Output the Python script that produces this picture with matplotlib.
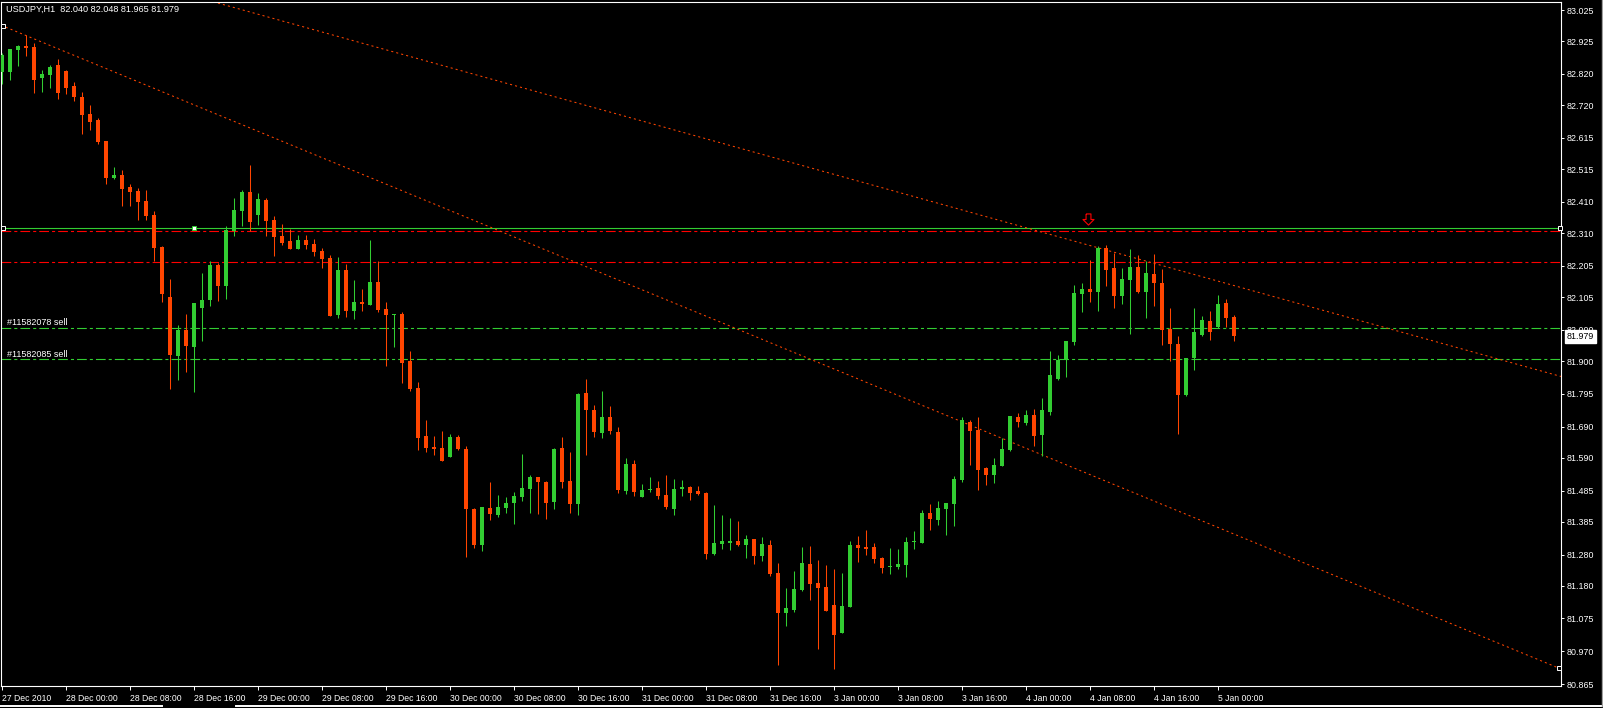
import matplotlib
matplotlib.use('Agg')
import matplotlib.pyplot as plt
from matplotlib.path import Path
from matplotlib.lines import Line2D

plt.rcParams['font.family'] = ['Liberation Sans', 'DejaVu Sans']
plt.rcParams['lines.scale_dashes'] = False

# USDJPY H1 bars, 27 Dec 2010 16:00 -> 5 Jan 2011 02:00
opens = [82.826, 82.827, 82.897, 82.911, 82.906, 82.808, 82.817, 82.849, 82.830, 82.781,
         82.746, 82.692, 82.672, 82.605, 82.488, 82.496, 82.459, 82.445, 82.413, 82.368,
         82.265, 82.105, 81.916, 81.999, 81.945, 82.070, 82.096, 82.208, 82.140, 82.317,
         82.381, 82.442, 82.368, 82.416, 82.352, 82.301, 82.285, 82.259, 82.288, 82.275,
         82.253, 82.230, 82.048, 82.192, 82.060, 82.089, 82.080, 82.153, 82.067, 82.046,
         82.051, 81.900, 81.814, 81.660, 81.625, 81.621, 81.592, 81.657, 81.618, 81.426,
         81.310, 81.429, 81.407, 81.429, 81.445, 81.464, 81.490, 81.528, 81.512, 81.448,
         81.621, 81.515, 81.442, 81.798, 81.743, 81.669, 81.721, 81.673, 81.484, 81.570,
         81.464, 81.487, 81.493, 81.471, 81.426, 81.490, 81.496, 81.484, 81.477, 81.282,
         81.314, 81.317, 81.323, 81.310, 81.330, 81.275, 81.310, 81.221, 81.093, 81.102,
         81.166, 81.250, 81.189, 81.176, 81.118, 81.028, 81.112, 81.310, 81.304, 81.304,
         81.269, 81.241, 81.241, 81.246, 81.319, 81.317, 81.413, 81.391, 81.426, 81.442,
         81.519, 81.705, 81.679, 81.557, 81.535, 81.564, 81.615, 81.721, 81.701, 81.727,
         81.663, 81.738, 81.842, 81.903, 81.962, 82.116, 82.131, 82.122, 82.263, 82.198,
         82.108, 82.160, 82.201, 82.121, 82.179, 82.150, 82.003, 81.955, 81.791, 81.910,
         81.983, 82.028, 82.009, 82.086, 82.040]
highs = [82.888, 82.900, 82.914, 82.945, 82.920, 82.833, 82.849, 82.868, 82.833, 82.794,
         82.762, 82.721, 82.679, 82.605, 82.522, 82.512, 82.467, 82.455, 82.448, 82.381,
         82.269, 82.163, 82.015, 82.051, 82.086, 82.182, 82.221, 82.214, 82.333, 82.422,
         82.448, 82.528, 82.439, 82.422, 82.365, 82.339, 82.323, 82.304, 82.304, 82.291,
         82.262, 82.240, 82.233, 82.211, 82.160, 82.131, 82.288, 82.221, 82.089, 82.051,
         82.058, 81.932, 81.833, 81.711, 81.660, 81.676, 81.666, 81.663, 81.628, 81.429,
         81.432, 81.512, 81.471, 81.464, 81.480, 81.602, 81.535, 81.528, 81.515, 81.621,
         81.657, 81.608, 81.798, 81.842, 81.759, 81.804, 81.756, 81.689, 81.589, 81.583,
         81.506, 81.528, 81.515, 81.535, 81.522, 81.519, 81.500, 81.500, 81.480, 81.439,
         81.407, 81.397, 81.387, 81.342, 81.330, 81.336, 81.326, 81.253, 81.173, 81.227,
         81.304, 81.307, 81.262, 81.246, 81.234, 81.221, 81.323, 81.339, 81.358, 81.317,
         81.272, 81.301, 81.298, 81.336, 81.355, 81.423, 81.442, 81.451, 81.445, 81.532,
         81.721, 81.711, 81.721, 81.560, 81.589, 81.653, 81.724, 81.733, 81.743, 81.746,
         81.782, 81.932, 81.919, 81.964, 82.144, 82.150, 82.224, 82.269, 82.272, 82.246,
         82.198, 82.259, 82.240, 82.221, 82.243, 82.196, 82.071, 81.980, 81.910, 82.071,
         82.044, 82.060, 82.112, 82.099, 82.048]
lows = [82.788, 82.801, 82.846, 82.878, 82.760, 82.763, 82.776, 82.739, 82.757, 82.734,
        82.628, 82.640, 82.596, 82.467, 82.484, 82.397, 82.397, 82.352, 82.352, 82.221,
        82.089, 81.810, 81.839, 81.865, 81.801, 81.964, 82.076, 82.092, 82.099, 82.301,
        82.333, 82.317, 82.336, 82.301, 82.237, 82.272, 82.259, 82.259, 82.259, 82.237,
        82.198, 82.044, 82.038, 82.041, 82.035, 82.060, 82.080, 82.057, 81.884, 81.945,
        81.831, 81.805, 81.615, 81.609, 81.599, 81.580, 81.592, 81.615, 81.272, 81.301,
        81.291, 81.391, 81.400, 81.413, 81.378, 81.451, 81.413, 81.410, 81.394, 81.426,
        81.493, 81.413, 81.407, 81.599, 81.657, 81.653, 81.666, 81.477, 81.474, 81.467,
        81.464, 81.480, 81.458, 81.426, 81.407, 81.467, 81.455, 81.471, 81.266, 81.278,
        81.298, 81.294, 81.307, 81.269, 81.250, 81.259, 81.211, 80.926, 81.051, 81.096,
        81.163, 81.134, 80.977, 81.099, 80.913, 81.028, 81.112, 81.257, 81.278, 81.254,
        81.222, 81.218, 81.234, 81.209, 81.298, 81.317, 81.358, 81.375, 81.342, 81.371,
        81.512, 81.567, 81.487, 81.503, 81.509, 81.564, 81.612, 81.689, 81.695, 81.628,
        81.596, 81.727, 81.839, 81.850, 81.951, 82.058, 82.090, 82.061, 82.140, 82.071,
        82.084, 81.987, 82.118, 82.039, 82.077, 81.951, 81.900, 81.667, 81.788, 81.871,
        81.980, 81.967, 82.007, 82.009, 81.965]
closes = [82.881, 82.900, 82.911, 82.904, 82.801, 82.820, 82.842, 82.760, 82.776, 82.747,
          82.689, 82.667, 82.603, 82.488, 82.496, 82.451, 82.442, 82.410, 82.365, 82.262,
          82.115, 81.919, 81.999, 81.948, 82.086, 82.096, 82.208, 82.140, 82.320, 82.384,
          82.442, 82.346, 82.419, 82.349, 82.297, 82.278, 82.259, 82.288, 82.272, 82.249,
          82.227, 82.044, 82.192, 82.060, 82.089, 82.083, 82.153, 82.064, 82.049, 82.051,
          81.895, 81.810, 81.653, 81.622, 81.618, 81.580, 81.657, 81.618, 81.426, 81.310,
          81.432, 81.410, 81.432, 81.445, 81.467, 81.493, 81.528, 81.512, 81.445, 81.618,
          81.512, 81.442, 81.794, 81.743, 81.673, 81.721, 81.676, 81.487, 81.570, 81.480,
          81.487, 81.490, 81.467, 81.432, 81.490, 81.496, 81.477, 81.474, 81.282, 81.317,
          81.323, 81.323, 81.310, 81.330, 81.275, 81.314, 81.218, 81.093, 81.109, 81.170,
          81.253, 81.185, 81.173, 81.099, 81.022, 81.115, 81.310, 81.302, 81.298, 81.266,
          81.238, 81.243, 81.250, 81.320, 81.320, 81.413, 81.394, 81.429, 81.445, 81.522,
          81.711, 81.676, 81.551, 81.535, 81.567, 81.618, 81.724, 81.705, 81.727, 81.660,
          81.743, 81.855, 81.903, 81.964, 82.118, 82.131, 82.122, 82.263, 82.192, 82.108,
          82.163, 82.201, 82.121, 82.182, 82.150, 81.999, 81.955, 81.791, 81.910, 81.993,
          82.032, 81.993, 82.083, 82.038, 81.979]

xtick_labels = ['27 Dec 2010', '28 Dec 00:00', '28 Dec 08:00', '28 Dec 16:00', '29 Dec 00:00',
                '29 Dec 08:00', '29 Dec 16:00', '30 Dec 00:00', '30 Dec 08:00', '30 Dec 16:00',
                '31 Dec 00:00', '31 Dec 08:00', '31 Dec 16:00', '3 Jan 00:00', '3 Jan 08:00',
                '3 Jan 16:00', '4 Jan 00:00', '4 Jan 08:00', '4 Jan 16:00', '5 Jan 00:00']
ytick_values = [83.025, 82.925, 82.820, 82.720, 82.615, 82.515, 82.410, 82.310, 82.205, 82.105,
                82.000, 81.900, 81.795, 81.690, 81.590, 81.485, 81.385, 81.280, 81.180, 81.075,
                80.970, 80.865]

hline_level = 82.325
stop_levels = [82.317, 82.216]
order_levels = [82.006, 81.906]
order_labels = ['#11582078 sell', '#11582085 sell']
# trend lines: two anchor points each (bar index, price)
trend_upper = [(26.6, 83.050), (161.0, 82.092)]
trend_lower = [(0.09, 82.974), (194.6, 80.916)]
arrow_bar, arrow_price = 135.8, 82.355

up_col = '#32cd32'
dn_col = '#ff4500'
dashdot = (0, (7, 2.2, 2.2, 2.2))

fig = plt.figure(figsize=(16.03, 7.08), dpi=100, facecolor='black')
ax = fig.add_axes([1 / 1603, 22 / 708, 1560 / 1603, 684.3 / 708])
ax.set_facecolor('black')

xs = list(range(len(opens)))
cols = [up_col if c >= o else dn_col for o, c in zip(opens, closes)]
bottoms = [min(o, c) for o, c in zip(opens, closes)]
heights = [max(abs(c - o), 0.0028) for o, c in zip(opens, closes)]
ax.vlines(xs, lows, highs, colors=cols, linewidth=0.75, zorder=3)
ax.bar(xs, heights, bottom=bottoms, width=0.62, color=cols, linewidth=0, zorder=4)

ax.axhline(hline_level, color=up_col, linewidth=0.8, zorder=2)
for lv in stop_levels:
    ax.axhline(lv, color='#ff0000', linewidth=0.8, linestyle=dashdot, zorder=2)
for lv, lab in zip(order_levels, order_labels):
    ax.axhline(lv, color=up_col, linewidth=0.8, linestyle=dashdot, zorder=2)
    ax.annotate(lab, xy=(0.6, lv), xytext=(0, 3.6), textcoords='offset points',
                va='center', ha='left', color='white', fontsize=6.5)

for (p1, p2) in [trend_upper, trend_lower]:
    ax.axline(p1, p2, color=dn_col, linewidth=0.75, linestyle=(0, (1.5, 2.2)), zorder=2)

# selected-object anchor squares
ax.plot([trend_lower[0][0], trend_lower[1][0], 0.09, 194.75],
        [trend_lower[0][1], trend_lower[1][1], hline_level, hline_level],
        's', ms=3.3, mfc='black', mec='white', mew=0.7, clip_on=False, zorder=6)
ax.plot([24], [hline_level], 's', ms=3.3, mfc='white', mec=up_col, mew=0.7, zorder=6)

arrow = Path([(-0.22, 0.5), (0.22, 0.5), (0.22, 0.0), (0.5, 0.0), (0.0, -0.5),
              (-0.5, 0.0), (-0.22, 0.0), (-0.22, 0.5)])
ax.plot([arrow_bar], [arrow_price], marker=arrow, ms=8, mfc='none', mec='#ff0000',
        mew=0.8, zorder=6)

ax.set_xlim(-0.125, 194.875)
ax.set_ylim(80.8586, 83.0516)

ax.yaxis.tick_right()
ax.set_yticks(ytick_values)
ax.set_yticklabels([f'{v:.3f}' for v in ytick_values])
ax.tick_params(axis='y', colors='white', direction='out', length=2.2, width=0.7,
               pad=2, labelsize=6.4)
ax.set_xticks(list(range(0, 8 * len(xtick_labels), 8)))
ax.set_xticklabels(xtick_labels, ha='left',
                   fontfamily=['Liberation Sans Narrow', 'Liberation Sans'])
ax.tick_params(axis='x', colors='white', direction='out', length=3, width=0.7,
               pad=2.5, labelsize=6.2)
for sp in ax.spines.values():
    sp.set_color('white')
    sp.set_linewidth(0.8)

ax.annotate(f'{closes[-1]:.3f}', xy=(1, closes[-1]), xycoords=('axes fraction', 'data'),
            xytext=(4, 0), textcoords='offset points', ha='left', va='center',
            color='black', fontsize=6.4, annotation_clip=False, zorder=10,
            bbox=dict(boxstyle='square,pad=0.2', fc='white', ec='white'))

fig.text(6 / 1603, 1 - 9.5 / 708,
         'USDJPY,H1  {:.3f} {:.3f} {:.3f} {:.3f}'.format(opens[-1], highs[-1], lows[-1], closes[-1]),
         color='white', fontsize=6.6, va='center', ha='left')

# window frame pieces at the bottom and right
fig.add_artist(Line2D([0, 162 / 1603], [2.5 / 708] * 2, color='white', lw=1.4,
                      transform=fig.transFigure))
fig.add_artist(Line2D([236 / 1603, 1], [2.5 / 708] * 2, color='white', lw=1.4,
                      transform=fig.transFigure))
fig.add_artist(Line2D([1601.5 / 1603] * 2, [2.5 / 708, 1], color='#a0a0a0', lw=1,
                      transform=fig.transFigure))

fig.savefig('out.png', dpi=100, facecolor='black')
